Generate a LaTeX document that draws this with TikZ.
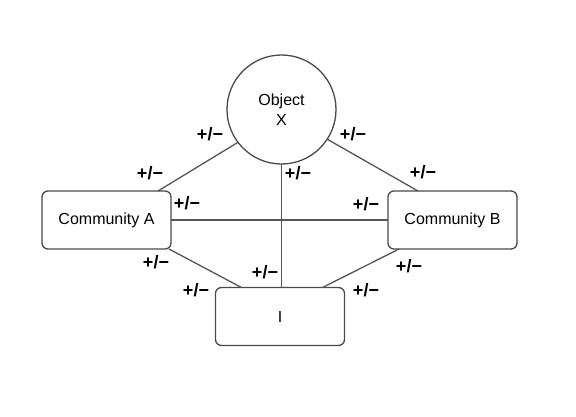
\documentclass[tikz,border=0pt]{standalone}
\usepackage{fontspec}
\setmainfont{Liberation Sans}
\usetikzlibrary{calc}
\definecolor{edgegray}{HTML}{555555}
\definecolor{boxgray}{HTML}{4A4A4A}
\begin{document}
\begin{tikzpicture}[x=1bp,y=-1bp,
  box/.style={draw=boxgray,line width=1.3bp,rounded corners=6bp,minimum width=129bp,minimum height=58bp,inner sep=0pt,outer sep=0pt,font=\fontsize{16bp}{20bp}\selectfont},
  objcircle/.style={draw=boxgray,line width=1.3bp,circle,minimum size=109bp,inner sep=0pt,outer sep=0pt,align=center,font=\fontsize{16bp}{20bp}\selectfont},
  link/.style={draw=edgegray,line width=1.3bp},
  pm/.style={font=\bfseries\fontsize{18bp}{20bp}\selectfont,inner sep=0pt}]
\useasboundingbox[fill=white] (0,0) rectangle (576,416);
\node[objcircle] (obj) at (281.5,109.5) {Object\\X};
\node[box] (ca) at (106.5,220) {Community A};
\node[box] (cb) at (452.5,220) {Community B};
\node[box] (i) at (280,316.5) {I};
\draw[link] (obj.217) -- ([xshift=-13bp]ca.north east);
\draw[link] (obj.-33) -- ([xshift=30bp]cb.north west);
\draw[link] (obj.south) -- (obj.south |- i.north);
\draw[link] (ca.east) -- (cb.west);
\draw[link] ([xshift=-2bp]ca.south east) -- ([xshift=26bp]i.north west);
\draw[link] ([xshift=11bp]cb.south west) -- ([xshift=-22bp]i.north east);
\node[pm] (l1) at (210,134) {+/\textminus};
\node[pm] (l2) at (150,173) {+/\textminus};
\node[pm] (l3) at (298,173) {+/\textminus};
\node[pm] (l4) at (353,134) {+/\textminus};
\node[pm] (l5) at (423,172) {+/\textminus};
\node[pm] (l6) at (187,203) {+/\textminus};
\node[pm] (l7) at (366,204) {+/\textminus};
\node[pm] (l8) at (156,262) {+/\textminus};
\node[pm] (l9) at (265,272) {+/\textminus};
\node[pm] (l10) at (196,290) {+/\textminus};
\node[pm] (l11) at (409,266) {+/\textminus};
\node[pm] (l12) at (366,290) {+/\textminus};
\end{tikzpicture}
\end{document}
